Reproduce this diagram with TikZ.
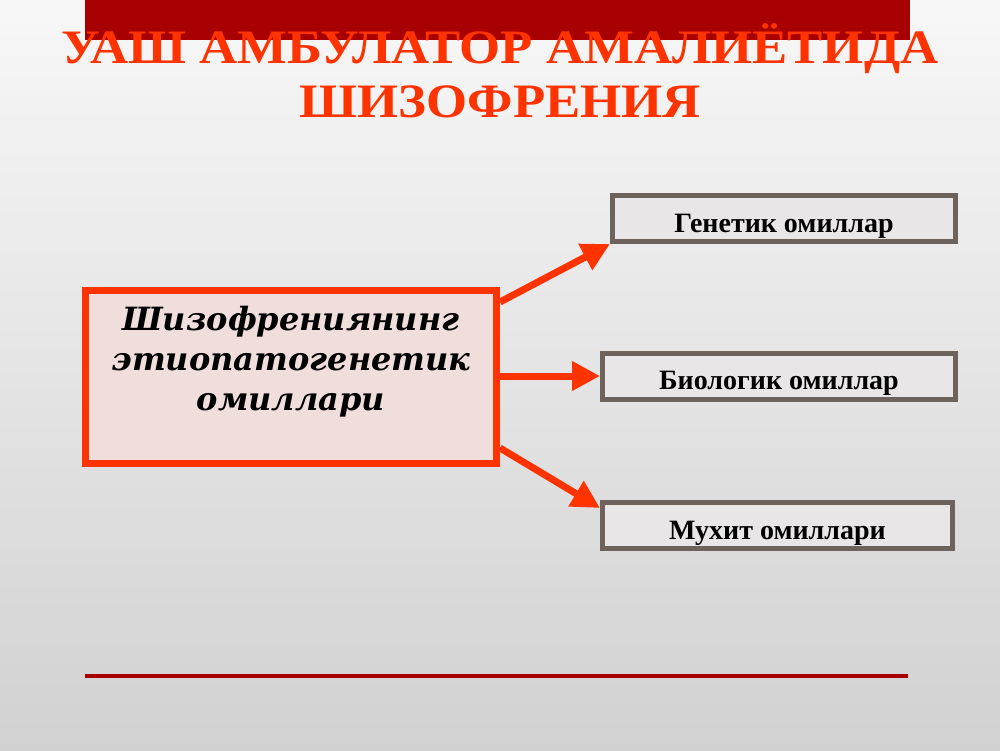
\documentclass[tikz,border=0pt]{standalone}
\usepackage{fontspec}
\setmainfont{Liberation Serif}
\newfontfamily\italfont{DejaVu Serif}
\newfontfamily\titlefont{Liberation Serif}[FakeStretch=1.1]
\usetikzlibrary{positioning, arrows.meta, calc}

\definecolor{rojo}{HTML}{FF3300}
\definecolor{granate}{HTML}{A80000}
\definecolor{gris}{HTML}{6E625C}
\definecolor{grisclaro}{HTML}{E8E6E6}
\definecolor{rosa}{HTML}{F0DEDC}

\begin{document}
\begin{tikzpicture}[x=0.5pt, y=-0.5pt,
                  >={Triangle[length=14pt, width=14pt]},
                  titulo/.style={text=rojo, align=center,
                      font=\titlefont\bfseries\fontsize{24}{27}\selectfont},
                  causa/.style={draw=rojo, fill=rosa, line width=3.5pt,
                      minimum width=205.5pt, minimum height=86.5pt},
                  causatxt/.style={align=center, inner sep=0pt,
                      font=\italfont\bfseries\itshape\fontsize{16}{20}\selectfont},
                  factor/.style={draw=gris, fill=grisclaro, line width=2.5pt,
                      minimum height=23pt, text height=13.5pt, text depth=0pt,
                      font=\bfseries\fontsize{14}{16}\selectfont},
                  flecha/.style={->, draw=rojo, line width=3.5pt}]

                  % Fondo, banda superior y linea inferior.
                  \useasboundingbox (0,0) rectangle (1000,750);
                  \shade[top color=black!3, bottom color=black!18]
                      (0,0) rectangle (1000,750);
                  \fill[granate] (85,0) rectangle (910,40);
                  \draw[granate, line width=2pt] (85,676) -- (908,676);

                  % Titulo.
                  \node[titulo] (titulo) at (500,71)
                      {УАШ АМБУЛАТОР АМАЛИЁТИДА\\ШИЗОФРЕНИЯ};

                  % Recuadro principal y factores.
                  \node[causa] (causa) at (291,377) {};
                  \node[causatxt] (causatxt) at (291,362)
                      {Шизофрениянинг\\этиопатогенетик\\омиллари};
                  \node[factor, minimum width=171.5pt] (genetik) at (784,218.5)
                      {Генетик омиллар};
                  \node[factor, minimum width=176.5pt] (biologik) at (779,376)
                      {Биологик омиллар};
                  \node[factor, minimum width=175pt] (muhit) at (777.5,525.5)
                      {Мухит омиллари};

                  % Flechas hacia los factores.
                  \draw[flecha] ([yshift=-7.5pt]causa.north east) -- (genetik.south west);
                  \draw[flecha] (causa.east |- biologik.west) -- (biologik.west);
                  \draw[flecha] ([yshift=9.5pt]causa.south east)
                      -- ([yshift=-4pt]muhit.north west);

\end{tikzpicture}
\end{document}
